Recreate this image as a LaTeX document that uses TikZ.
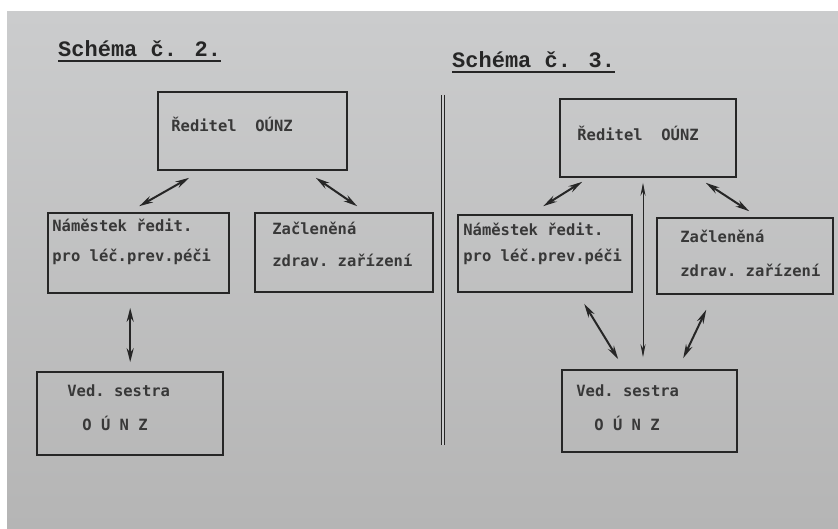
\documentclass[tikz,border=0pt]{standalone}
\usepackage{fontspec}
\newfontfamily\typefont{DejaVu Sans Mono}
\newfontfamily\headfont{Liberation Mono}
\usetikzlibrary{arrows.meta,positioning}
\definecolor{paper}{HTML}{CBCCCD}
\definecolor{paperdark}{HTML}{B5B5B5}
\definecolor{ink}{HTML}{262626}
\definecolor{typeink}{HTML}{383838}
\newcommand{\headline}[1]{\setbox0=\hbox{#1}\rlap{\rule[-5pt]{\wd0}{2.4pt}}\box0}
\tikzset{%
  % Specifications for style of arrows:
   link/.style={
           {Stealth[length=14pt,width=7pt]}-{Stealth[length=14pt,width=7pt]},
           line width=2pt,
           draw=ink},
   thinlink/.style={
           {Stealth[length=13pt,width=5pt]}-{Stealth[length=13pt,width=5pt]},
           line width=0.9pt,
           draw=ink},
  % Specifications for style of nodes:
   box/.style = {rectangle, draw=ink, line width=1.6pt, inner sep=0pt},
   boxtext/.style = {anchor=base west, align=left, inner sep=0pt, text=typeink,
                  font=\typefont\bfseries\frenchspacing\fontsize{15.5}{30}\selectfont},
   heading/.style = {anchor=base west, inner sep=0pt, text=ink,
                  font=\headfont\bfseries\fontsize{22}{26}\selectfont},
}

\begin{document}
\begin{tikzpicture}[x=1pt, y=-1pt]

  % Paper
  \fill[white] (0,0) rectangle (838,529);
  \shade[top color=paper, bottom color=paperdark] (7,12) rectangle (838,529);
  \useasboundingbox (0,0) rectangle (838,529);

  % Schema 2
  \node (head2) [heading] at (58,57) {\headline{Schéma č. 2.}};
  \node (rL) [box, minimum width=189pt, minimum height=78pt] at (252.5,131) {};
  \node (nL) [box, minimum width=181pt, minimum height=80pt] at (138.5,253) {};
  \node (zL) [box, minimum width=178pt, minimum height=79pt] at (344,252.5) {};
  \node (vL) [box, minimum width=186pt, minimum height=83pt] at (130,413.5) {};

  % (multi-line texts are placed by the baseline of their last line)
  \node (rLtext) [boxtext] at ([xshift=14pt, yshift=-40pt]rL.north west) {Ředitel\ \ OÚNZ};
  \node (nLtext) [boxtext] at ([xshift=5pt, yshift=-49pt]nL.north west)
        {Náměstek ředit.\\pro léč.prev.péči};
  \node (zLtext) [boxtext] at ([xshift=18pt, yshift=-54pt]zL.north west)
        {Začleněná\\[2pt]zdrav. zařízení};
  \node (vLtext) [boxtext] at ([xshift=31pt, yshift=-59pt]vL.north west)
        {Ved. sestra\\[4pt]\hspace*{15pt}O Ú N Z};

  \draw[link] ([xshift=32pt, yshift=-7pt]rL.south west) -- ([xshift=92pt, yshift=6pt]nL.north west);
  \draw[link] ([xshift=-32pt, yshift=-7pt]rL.south east) -- ([xshift=103pt, yshift=6pt]zL.north west);
  \draw[link] ([xshift=83pt, yshift=-14pt]nL.south west) -- ([xshift=94pt, yshift=9pt]vL.north west);

  % Divider
  \draw[ink, line width=1pt, double=paper, double distance=2.2pt] (443,95) -- (443,445);

  % Schema 3
  \node (head3) [heading] at (452,68) {\headline{Schéma č. 3.}};
  \node (rR) [box, minimum width=176pt, minimum height=78pt] at (648,138) {};
  \node (nR) [box, minimum width=174pt, minimum height=77pt] at (545,253.5) {};
  \node (zR) [box, minimum width=176pt, minimum height=76pt] at (745,256) {};
  \node (vR) [box, minimum width=175pt, minimum height=82pt] at (649.5,411) {};

  \node (rRtext) [boxtext] at ([xshift=18pt, yshift=-42pt]rR.north west) {Ředitel\ \ OÚNZ};
  \node (nRtext) [boxtext] at ([xshift=6pt, yshift=-47pt]nR.north west)
        {Náměstek ředit.\\[-4pt]pro léč.prev.péči};
  \node (zRtext) [boxtext] at ([xshift=24pt, yshift=-59pt]zR.north west)
        {Začleněná\\[4pt]zdrav. zařízení};
  \node (vRtext) [boxtext] at ([xshift=15pt, yshift=-61pt]vR.north west)
        {Ved. sestra\\[4pt]\hspace*{18pt}O Ú N Z};

  \draw[link] ([xshift=23pt, yshift=-4pt]rR.south west) -- ([xshift=86pt, yshift=8pt]nR.north west);
  \draw[link] ([xshift=-31pt, yshift=-5pt]rR.south east) -- ([xshift=93pt, yshift=6pt]zR.north west);
  \draw[thinlink] ([xshift=-5pt, yshift=-5pt]rR.south) -- ([xshift=-6.5pt, yshift=12pt]vR.north);
  \draw[link] ([xshift=127pt, yshift=-11pt]nR.south west) -- ([xshift=57pt, yshift=10pt]vR.north west);
  \draw[link] ([xshift=50pt, yshift=-15pt]zR.south west) -- ([xshift=122pt, yshift=11pt]vR.north west);

\end{tikzpicture}
\end{document}
